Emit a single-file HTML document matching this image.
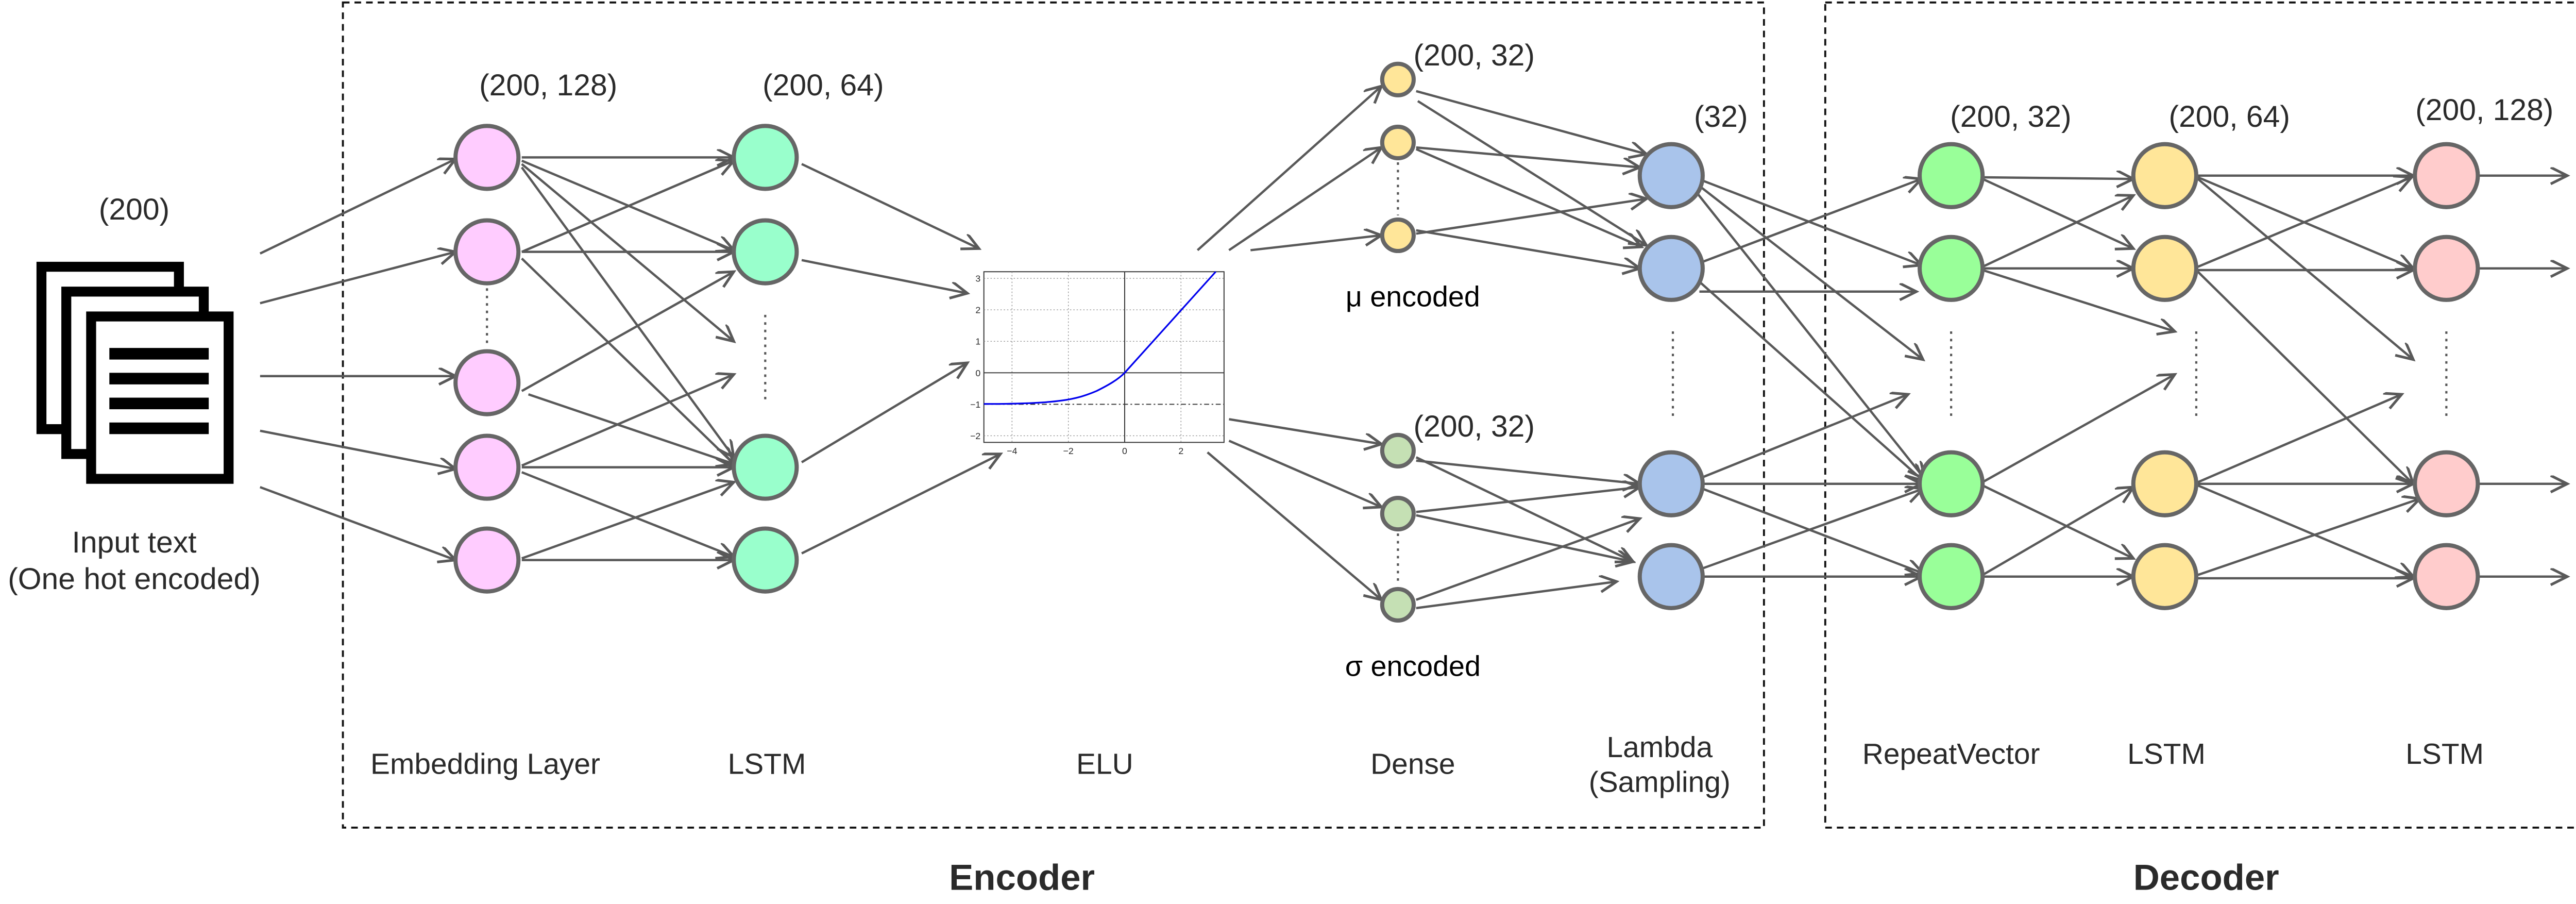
<!DOCTYPE html>
<html><head><meta charset="utf-8"><style>
html,body{margin:0;padding:0;background:#fff;}
svg{display:block;}
text{font-family:"Liberation Sans",sans-serif;fill:#2a2a2a;}
</style></head><body>
<svg width="5041" height="1754" viewBox="0 0 1568 545.6" xmlns="http://www.w3.org/2000/svg">
<defs>
<marker id="a" markerUnits="userSpaceOnUse" markerWidth="14" markerHeight="14" refX="11" refY="5" orient="auto">
<path d="M1,0 L11,5 L1,10" fill="none" stroke="#595959" stroke-width="1.6"/>
</marker>
</defs>
<rect x="0" y="0" width="1568" height="546" fill="#fff"/>
<!-- boxes -->
<rect x="207" y="1.5" width="858" height="498" fill="none" stroke="#111" stroke-width="1.2" stroke-dasharray="4,3"/>
<rect x="1102" y="1.5" width="460" height="498" fill="none" stroke="#111" stroke-width="1.2" stroke-dasharray="4,3"/>

<!-- document icon -->
<rect x="25" y="161" width="83" height="98" fill="#fff" stroke="#000" stroke-width="6"/>
<rect x="40" y="176" width="83" height="98" fill="#fff" stroke="#000" stroke-width="6"/>
<rect x="55" y="191" width="83" height="98" fill="#fff" stroke="#000" stroke-width="6"/>
<rect x="66" y="210" width="60" height="7" fill="#000"/>
<rect x="66" y="225" width="60" height="7" fill="#000"/>
<rect x="66" y="240" width="60" height="7" fill="#000"/>
<rect x="66" y="255" width="60" height="7" fill="#000"/>

<g stroke="#595959" stroke-width="1.4" fill="none" marker-end="url(#a)">
<!-- input -->
<line x1="157" y1="153" x2="275" y2="96"/>
<line x1="157" y1="183" x2="275" y2="152"/>
<line x1="157" y1="227" x2="275" y2="227"/>
<line x1="157" y1="260" x2="275" y2="283"/>
<line x1="157" y1="294" x2="275" y2="338"/>
<!-- emb -> lstm1 -->
<line x1="315" y1="95" x2="443" y2="95"/>
<line x1="315" y1="97" x2="443" y2="151"/>
<line x1="315" y1="99" x2="443" y2="206"/>
<line x1="315" y1="101" x2="443" y2="276"/>
<line x1="315" y1="152" x2="443" y2="97"/>
<line x1="315" y1="152" x2="443" y2="152"/>
<line x1="315" y1="156" x2="443" y2="280"/>
<line x1="315" y1="236" x2="443" y2="164"/>
<line x1="319" y1="238" x2="443" y2="280"/>
<line x1="315" y1="281" x2="443" y2="226"/>
<line x1="315" y1="282" x2="443" y2="282"/>
<line x1="315" y1="285" x2="443" y2="336"/>
<line x1="315" y1="337" x2="443" y2="291"/>
<line x1="315" y1="338" x2="443" y2="338"/>
<!-- lstm1 -> elu -->
<line x1="484" y1="99" x2="591" y2="150"/>
<line x1="484" y1="157" x2="584" y2="177"/>
<line x1="484" y1="279" x2="584" y2="219"/>
<line x1="484" y1="334" x2="604" y2="274"/>
<!-- elu -> dense -->
<line x1="723" y1="151" x2="834" y2="52"/>
<line x1="742" y1="151" x2="834" y2="89"/>
<line x1="755" y1="151" x2="834" y2="142"/>
<line x1="742" y1="253" x2="834" y2="268"/>
<line x1="742" y1="266" x2="834" y2="306"/>
<line x1="729" y1="273" x2="834" y2="362"/>
<!-- dense -> lambda -->
<line x1="855" y1="55" x2="994" y2="93"/>
<line x1="856" y1="61" x2="994" y2="148"/>
<line x1="855" y1="89" x2="990" y2="101"/>
<line x1="855" y1="90" x2="991" y2="149"/>
<line x1="855" y1="141" x2="994" y2="120"/>
<line x1="855" y1="139" x2="990" y2="162"/>
<line x1="855" y1="278" x2="990" y2="292"/>
<line x1="855" y1="276" x2="986" y2="339"/>
<line x1="855" y1="309" x2="990" y2="294"/>
<line x1="855" y1="311" x2="986" y2="339"/>
<line x1="855" y1="362" x2="990" y2="313"/>
<line x1="855" y1="367" x2="976" y2="351"/>
<!-- lambda -> repeatvector -->
<line x1="1028" y1="109" x2="1160" y2="160"/>
<line x1="1027" y1="113" x2="1161" y2="217"/>
<line x1="1025" y1="117" x2="1162" y2="289"/>
<line x1="1028" y1="158" x2="1160" y2="108"/>
<line x1="1026" y1="176" x2="1157" y2="176"/>
<line x1="1026" y1="170" x2="1161" y2="290"/>
<line x1="1028" y1="288" x2="1152" y2="238"/>
<line x1="1028" y1="292" x2="1160" y2="292"/>
<line x1="1028" y1="295" x2="1161" y2="346"/>
<line x1="1028" y1="343" x2="1161" y2="295"/>
<line x1="1028" y1="348" x2="1160" y2="348"/>
<!-- rv -> lstm2 -->
<line x1="1197" y1="107" x2="1288" y2="108"/>
<line x1="1197" y1="108" x2="1288" y2="150"/>
<line x1="1197" y1="161" x2="1288" y2="118"/>
<line x1="1197" y1="162" x2="1288" y2="162"/>
<line x1="1197" y1="163" x2="1313" y2="200"/>
<line x1="1197" y1="291" x2="1313" y2="226"/>
<line x1="1197" y1="293" x2="1288" y2="337"/>
<line x1="1197" y1="347" x2="1288" y2="294"/>
<line x1="1197" y1="348" x2="1288" y2="348"/>
<!-- lstm2 -> lstm3 -->
<line x1="1327" y1="106" x2="1457" y2="106"/>
<line x1="1327" y1="107" x2="1457" y2="162"/>
<line x1="1327" y1="108" x2="1457" y2="217"/>
<line x1="1327" y1="161" x2="1456" y2="107"/>
<line x1="1327" y1="163" x2="1457" y2="163"/>
<line x1="1327" y1="164" x2="1457" y2="292"/>
<line x1="1327" y1="291" x2="1450" y2="238"/>
<line x1="1327" y1="292" x2="1457" y2="292"/>
<line x1="1327" y1="293" x2="1457" y2="348"/>
<line x1="1327" y1="347" x2="1461" y2="301"/>
<line x1="1327" y1="349" x2="1457" y2="349"/>
<!-- outputs -->
<line x1="1496" y1="106" x2="1550" y2="106"/>
<line x1="1496" y1="162" x2="1550" y2="162"/>
<line x1="1496" y1="292" x2="1550" y2="292"/>
<line x1="1496" y1="348" x2="1550" y2="348"/>
</g>

<!-- dots -->
<g stroke="#555" stroke-width="1.3" stroke-dasharray="1.5,3">
<line x1="294" y1="174" x2="294" y2="210"/>
<line x1="462" y1="190" x2="462" y2="242"/>
<line x1="844" y1="98" x2="844" y2="130"/>
<line x1="844" y1="322" x2="844" y2="353"/>
<line x1="1010" y1="200" x2="1010" y2="252"/>
<line x1="1178" y1="200" x2="1178" y2="252"/>
<line x1="1326" y1="200" x2="1326" y2="252"/>
<line x1="1477" y1="200" x2="1477" y2="252"/>
</g>

<!-- nodes -->
<g stroke="#666" stroke-width="2.5">
<g fill="#ffccff">
<circle cx="294" cy="95" r="19"/><circle cx="294" cy="152" r="19"/><circle cx="294" cy="231" r="19"/><circle cx="294" cy="282" r="19"/><circle cx="294" cy="338" r="19"/>
</g>
<g fill="#99ffcc">
<circle cx="462" cy="95" r="19"/><circle cx="462" cy="152" r="19"/><circle cx="462" cy="282" r="19"/><circle cx="462" cy="338" r="19"/>
</g>
<g fill="#ffe699">
<circle cx="844" cy="48" r="9.5"/><circle cx="844" cy="86" r="9.5"/><circle cx="844" cy="142" r="9.5"/>
</g>
<g fill="#c5e0b4">
<circle cx="844" cy="272" r="9.5"/><circle cx="844" cy="310" r="9.5"/><circle cx="844" cy="365" r="9.5"/>
</g>
<g fill="#a9c4eb">
<circle cx="1009" cy="106" r="19"/><circle cx="1009" cy="162" r="19"/><circle cx="1009" cy="292" r="19"/><circle cx="1009" cy="348" r="19"/>
</g>
<g fill="#99ff99">
<circle cx="1178" cy="106" r="19"/><circle cx="1178" cy="162" r="19"/><circle cx="1178" cy="292" r="19"/><circle cx="1178" cy="348" r="19"/>
</g>
<g fill="#ffe699">
<circle cx="1307" cy="106" r="19"/><circle cx="1307" cy="162" r="19"/><circle cx="1307" cy="292" r="19"/><circle cx="1307" cy="348" r="19"/>
</g>
<g fill="#ffcccc">
<circle cx="1477" cy="106" r="19"/><circle cx="1477" cy="162" r="19"/><circle cx="1477" cy="292" r="19"/><circle cx="1477" cy="348" r="19"/>
</g>
</g>

<!-- ELU plot -->
<g>
<rect x="594" y="164" width="145" height="103" fill="#fff" stroke="#333" stroke-width="0.6"/>
<g stroke="#888" stroke-width="0.4" stroke-dasharray="0.8,1.2">
<line x1="611" y1="164" x2="611" y2="267"/><line x1="645" y1="164" x2="645" y2="267"/><line x1="713" y1="164" x2="713" y2="267"/>
<line x1="594" y1="168" x2="739" y2="168"/><line x1="594" y1="187" x2="739" y2="187"/><line x1="594" y1="206" x2="739" y2="206"/><line x1="594" y1="263" x2="739" y2="263"/>
</g>
<line x1="679" y1="164" x2="679" y2="267" stroke="#333" stroke-width="0.6"/>
<line x1="594" y1="225" x2="739" y2="225" stroke="#333" stroke-width="0.6"/>
<line x1="594" y1="244" x2="739" y2="244" stroke="#333" stroke-width="0.6" stroke-dasharray="3,1.5,1,1.5"/>
<path d="M594,243.8 C640,243.8 650,241 662,236 C670,232 675,229 679,225 L734,164" fill="none" stroke="#0000ee" stroke-width="1"/>
<g font-size="5.5" text-anchor="end">
<text x="592" y="170">3</text><text x="592" y="189">2</text><text x="592" y="208">1</text><text x="592" y="227">0</text><text x="592" y="246">−1</text><text x="592" y="265">−2</text>
</g>
<g font-size="5.5" text-anchor="middle">
<text x="611" y="274">−4</text><text x="645" y="274">−2</text><text x="679" y="274">0</text><text x="713" y="274">2</text>
</g>
</g>

<!-- labels -->
<g font-size="18.3" text-anchor="middle">
<text x="81" y="132.5">(200)</text>
<text x="81" y="333.5">Input text</text>
<text x="81" y="355.5">(One hot encoded)</text>
<text x="331" y="57.5">(200, 128)</text>
<text x="497" y="57.5">(200, 64)</text>
<text x="890" y="39.5">(200, 32)</text>
<text x="890" y="263.5">(200, 32)</text>
<text x="853" y="185" font-size="17.3" style="fill:#000">μ encoded</text>
<text x="853" y="408" font-size="17.3" style="fill:#000">σ encoded</text>
<text x="1039" y="76.5">(32)</text>
<text x="1214" y="76.5">(200, 32)</text>
<text x="1346" y="76.5">(200, 64)</text>
<text x="1500" y="72.5">(200, 128)</text>
<text x="293" y="467" font-size="17.7">Embedding Layer</text>
<text x="463" y="467" font-size="17.7">LSTM</text>
<text x="667" y="467" font-size="17.7">ELU</text>
<text x="853" y="467" font-size="17.7">Dense</text>
<text x="1002" y="457" font-size="17.7">Lambda</text>
<text x="1002" y="478" font-size="17.7">(Sampling)</text>
<text x="1178" y="461" font-size="17.7">RepeatVector</text>
<text x="1308" y="461" font-size="17.7">LSTM</text>
<text x="1476" y="461" font-size="17.7">LSTM</text>
<text x="617" y="537" font-size="22" font-weight="bold">Encoder</text>
<text x="1332" y="537" font-size="22" font-weight="bold">Decoder</text>
</g>
</svg>
</body></html>
